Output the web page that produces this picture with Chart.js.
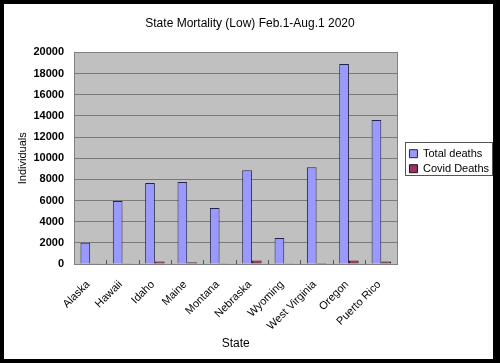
<!DOCTYPE html>
<html>
<head>
<meta charset="utf-8">
<script src="https://cdn.jsdelivr.net/npm/chart.js@4/dist/chart.umd.min.js"></script>
<style>
  html, body { margin: 0; padding: 0; background: #000; }
  #wrap { width: 500px; height: 363px; position: relative; }
  canvas { display: block; }
</style>
</head>
<body>
<div id="wrap"><canvas id="c" width="500" height="363"></canvas></div>
<script>
const states = ['Alaska', 'Hawaii', 'Idaho', 'Maine', 'Montana', 'Nebraska', 'Wyoming', 'West Virginia', 'Oregon', 'Puerto Rico'];
const totalDeaths = [2000, 5950, 7650, 7750, 5300, 8850, 2450, 9150, 18900, 13600];
const covidDeaths = [20, 25, 230, 170, 60, 320, 25, 90, 340, 230];
const yTicks = [0, 2000, 4000, 6000, 8000, 10000, 12000, 14000, 16000, 18000, 20000];

const FONT = "'Liberation Sans', Arial, sans-serif";

const framePlugin = {
  id: 'frame',
  beforeDraw(chart) {
    const ctx = chart.ctx;
    ctx.save();
    ctx.fillStyle = '#000';
    ctx.fillRect(0, 0, chart.width, chart.height);
    ctx.fillStyle = '#fff';
    ctx.fillRect(4, 4, 489, 355);
    const a = chart.chartArea;
    ctx.fillStyle = '#c0c0c0';
    ctx.fillRect(a.left, a.top, a.right - a.left, a.bottom - a.top);
    ctx.restore();
  },
  afterDraw(chart) {
    const ctx = chart.ctx;
    const a = chart.chartArea;
    ctx.save();
    ctx.strokeStyle = '#808080';
    ctx.lineWidth = 1;
    ctx.strokeRect(Math.round(a.left) + 0.5, Math.round(a.top) + 0.5, Math.round(a.right - a.left), Math.round(a.bottom - a.top));
    // inside tick marks at category boundaries
    const n = states.length;
    const w = (a.right - a.left) / n;
    ctx.strokeStyle = '#555';
    ctx.beginPath();
    for (let i = 1; i < n; i++) {
      const px = Math.round(a.left + i * w) + 0.5;
      ctx.moveTo(px, a.bottom);
      ctx.lineTo(px, a.bottom - 4);
    }
    ctx.stroke();
    const boxes = chart.legend && chart.legend.legendHitBoxes;
    if (boxes && boxes.length) {
      let l = Infinity, t = Infinity, r = -Infinity, b = -Infinity;
      boxes.forEach(h => { l = Math.min(l, h.left); t = Math.min(t, h.top); r = Math.max(r, h.left + h.width); b = Math.max(b, h.top + h.height); });
      ctx.strokeStyle = '#555';
      ctx.strokeRect(Math.round(l - 4) + 0.5, Math.round(t - 6) + 0.5, Math.round(r - l + 7), Math.round(b - t + 7));
    }
    ctx.restore();
  }
};

new Chart(document.getElementById('c'), {
  type: 'bar',
  data: {
    labels: states,
    datasets: [
      { label: 'Total deaths', data: totalDeaths, backgroundColor: '#9999ff', borderColor: '#22224a', borderWidth: 1, categoryPercentage: 0.6, barPercentage: 1.0 },
      { label: 'Covid Deaths', data: covidDeaths, backgroundColor: '#993366', borderColor: '#2a0a18', borderWidth: 1, categoryPercentage: 0.6, barPercentage: 1.0 }
    ]
  },
  options: {
    responsive: false,
    animation: false,
    devicePixelRatio: 1,
    layout: { padding: { top: 4, left: 1, right: 1, bottom: 8 } },
    plugins: {
      title: { display: true, text: 'State Mortality (Low) Feb.1-Aug.1 2020', color: '#000', font: { family: FONT, size: 12, weight: 'normal' }, padding: { top: 12, bottom: 22 } },
      legend: {
        position: 'right',
        fullSize: false,
        maxWidth: 130,
        title: { display: true, text: ' ', font: { size: 1 }, padding: { top: 2.4, bottom: 2.4 } },
        labels: { color: '#000', font: { family: FONT, size: 11 }, boxWidth: 8, boxHeight: 8, padding: 4 }
      },
      tooltip: { enabled: false }
    },
    scales: {
      x: {
        grid: { display: false },
        border: { display: false },
        ticks: { color: '#000', font: { family: FONT, size: 11 }, minRotation: 45, maxRotation: 45, padding: 6, labelOffset: -2, autoSkip: false },
        title: { display: true, text: 'State', color: '#000', font: { family: FONT, size: 12 }, padding: { top: 2, bottom: 4 } },
        afterFit(s) { s.height = 91; }
      },
      y: {
        min: 0, max: 20000,
        afterBuildTicks(s) { s.ticks = yTicks.map(v => ({ value: v })); },
        grid: { color: '#7a7a7a', drawTicks: false },
        border: { display: false },
        ticks: { color: '#000', font: { family: FONT, size: 11, weight: 'bold' }, padding: 10, callback: v => String(v) },
        title: { display: true, text: 'Individuals', color: '#000', font: { family: FONT, size: 11 }, padding: { top: 15, bottom: 4 } },
        afterFit(s) { s.width = 73; }
      },
      gap: {
        type: 'linear', position: 'right', display: true,
        grid: { display: false }, border: { display: false },
        ticks: { display: false },
        afterFit(s) { s.width = 8; }
      }
    }
  },
  plugins: [framePlugin]
});
</script>
</body>
</html>
